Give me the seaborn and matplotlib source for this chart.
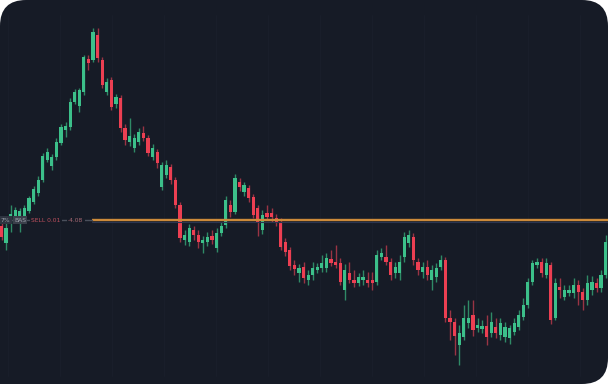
import numpy as np
import pandas as pd
import seaborn as sns
import matplotlib
matplotlib.use("Agg")
import matplotlib.pyplot as plt
from matplotlib.patches import FancyBboxPatch, Rectangle

# ---- data (price units) ----
opens = [158, 141, 160, 167, 162, 167, 173, 182, 191, 204, 224, 218, 227, 241, 254, 257, 282, 278, 292, 325,
         324, 349, 324, 292, 304, 280, 286, 256, 242, 236, 242, 251, 246, 227, 232, 197, 209, 217, 204, 179,
         144, 142, 154, 149, 141, 142, 148, 136, 151, 159, 179, 172, 202, 192, 196, 187, 176, 154, 171, 171,
         166, 162, 142, 134, 119, 111, 117, 104, 109, 114, 116, 116, 125, 122, 121, 94, 111, 104, 101, 104,
         104, 104, 102, 127, 127, 122, 111, 111, 127, 141, 147, 122, 112, 117, 104, 107, 117, 124, 66, 62,
         39, 47, 61, 69, 56, 55, 58, 51, 57, 49, 47, 46, 52, 57, 67, 79, 102, 119, 122, 109,
         119, 66, 97, 87, 91, 91, 99, 92, 84, 94, 101, 96, 109]
closes = [147, 156, 170, 174, 173, 176, 186, 195, 204, 228, 232, 227, 242, 257, 258, 282, 292, 294, 327, 321,
          352, 326, 299, 302, 277, 287, 256, 244, 248, 246, 252, 246, 231, 236, 221, 219, 219, 204, 179, 146,
          149, 156, 149, 142, 144, 147, 144, 151, 158, 184, 172, 206, 197, 199, 186, 169, 162, 169, 167, 167,
          162, 137, 132, 118, 115, 116, 106, 109, 116, 117, 121, 126, 121, 119, 102, 114, 104, 101, 107, 107,
          101, 101, 129, 131, 122, 109, 117, 122, 147, 149, 124, 114, 117, 109, 114, 116, 124, 66, 62, 48,
          51, 66, 66, 54, 59, 58, 47, 62, 51, 61, 57, 56, 61, 69, 79, 102, 121, 122, 111, 121,
          64, 101, 94, 94, 94, 99, 92, 84, 101, 102, 96, 109, 142]
highs = [162, 161, 179, 177, 176, 179, 188, 198, 208, 231, 236, 230, 246, 260, 262, 286, 295, 296, 329, 329,
         356, 356, 327, 306, 307, 290, 289, 260, 266, 250, 256, 258, 249, 240, 235, 222, 224, 220, 207, 182,
         154, 160, 158, 154, 148, 152, 154, 156, 162, 188, 184, 210, 206, 202, 199, 190, 179, 174, 179, 176,
         170, 166, 146, 137, 124, 120, 122, 114, 122, 121, 129, 131, 134, 139, 126, 120, 122, 114, 111, 114,
         112, 112, 134, 136, 139, 126, 122, 129, 152, 154, 151, 126, 122, 124, 119, 121, 129, 127, 74, 66,
         59, 79, 84, 84, 66, 64, 69, 72, 66, 66, 62, 59, 66, 74, 86, 106, 124, 126, 126, 126,
         122, 106, 106, 99, 99, 106, 104, 96, 109, 108, 106, 114, 149]
lows = [144, 134, 152, 164, 152, 165, 171, 180, 188, 202, 222, 214, 224, 239, 247, 254, 280, 272, 289, 314,
        322, 322, 296, 289, 274, 276, 252, 239, 238, 232, 239, 243, 228, 224, 216, 194, 206, 200, 176, 142,
        139, 138, 144, 136, 131, 138, 140, 132, 148, 156, 167, 170, 193, 188, 182, 166, 148, 150, 164, 162,
        158, 134, 128, 114, 109, 102, 101, 99, 104, 111, 112, 112, 118, 116, 99, 84, 101, 97, 98, 99,
        97, 94, 99, 124, 119, 104, 106, 104, 122, 137, 119, 109, 106, 104, 94, 102, 114, 62, 44, 29,
        19, 44, 56, 48, 52, 51, 39, 47, 46, 44, 42, 40, 49, 54, 64, 76, 99, 116, 107, 106,
        60, 64, 86, 84, 88, 86, 79, 74, 79, 89, 92, 92, 106]
order_price = 164
label_texts = ["7%", "BAS", "SELL 0.01", "-4.08"]

df = pd.DataFrame({"open": opens, "close": closes, "high": highs, "low": lows})
df["idx"] = np.arange(len(df))
df["up"] = df["close"] >= df["open"]

# ---- style ----
BG = "#161b26"
GREEN = "#3cc08a"
RED = "#ec3f52"
GREEN_W = "#2f8a66"
RED_W = "#9a3444"

sns.set_theme(style="dark", rc={"axes.facecolor": "none", "figure.facecolor": "white"})

fig = plt.figure(figsize=(6.08, 3.84), dpi=100)
W, H = 608, 384

# rounded dark panel (behind the axes)
r = 26
panel = FancyBboxPatch((0, 0), W, H, boxstyle=f"round,pad=0,rounding_size={r}",
                       transform=None, facecolor=BG, edgecolor="none", zorder=-10)
fig.patches.append(panel)
fig.patches.append(Rectangle((0, 0), r + 2, r + 2, transform=None, facecolor=BG,
                             edgecolor="none", zorder=-10))

ax = fig.add_axes([0, 0, 1, 1], zorder=1)
ax.set_facecolor("none")
ax.patch.set_alpha(0)
step = 4.577
ax.set_xlim(-1.5 / step, (W - 1.5) / step)
ax.set_ylim(0, H)
ax.axis("off")

# faint vertical grid
for gx in np.arange(8, W, 52):
    ax.axvline((gx - 1.5) / step, ymin=0.02, ymax=0.96, color="#191e2a", lw=0.8, zorder=0.5)

# wicks
ax.vlines(df["idx"], df["low"], df["high"],
          colors=[GREEN_W if u else RED_W for u in df["up"]], lw=1.0, zorder=2)
# bodies
body_bottom = np.minimum(df["open"], df["close"])
body_h = np.maximum(np.abs(df["close"] - df["open"]), 1.2)
ax.bar(df["idx"], body_h, bottom=body_bottom, width=0.7,
       color=[GREEN if u else RED for u in df["up"]], linewidth=0, zorder=3)

# order line
x_line_start = (92 - 1.5) / step
xmax = ax.get_xlim()[1]
ax.plot([x_line_start, xmax], [order_price, order_price],
        color="#cc8a3a", lw=1.7, zorder=4, solid_capstyle="butt")
ax.plot([x_line_start, xmax], [order_price - 2.2, order_price - 2.2],
        color="#2b3550", lw=0.8, zorder=4)
ax.plot([ax.get_xlim()[0], x_line_start], [order_price, order_price],
        color="#4a505c", lw=1.0, zorder=4)

# label pieces
ytxt = order_price / H
fs = 4.3
ax.text(0.5 / W, ytxt, label_texts[0], transform=ax.transAxes, fontsize=fs,
        color="#9da3ad", va="center", ha="left", zorder=5,
        bbox=dict(boxstyle="square,pad=0.25", facecolor="#2e3440", edgecolor="none"))
ax.text(14 / W, ytxt, label_texts[1], transform=ax.transAxes, fontsize=fs,
        color="#9da3ad", va="center", ha="left", zorder=5,
        bbox=dict(boxstyle="square,pad=0.25", facecolor="#3a3f4a", edgecolor="none"))
ax.text(31 / W, ytxt, label_texts[2], transform=ax.transAxes, fontsize=fs,
        color="#c0505e", va="center", ha="left", zorder=5,
        bbox=dict(boxstyle="square,pad=0.25", facecolor=BG, edgecolor="none"))
ax.text(68 / W, ytxt, label_texts[3], transform=ax.transAxes, fontsize=fs,
        color="#a86a74", va="center", ha="left", zorder=5,
        bbox=dict(boxstyle="square,pad=0.25", facecolor=BG, edgecolor="none"))

fig.savefig("out.png", dpi=100, facecolor="white")
